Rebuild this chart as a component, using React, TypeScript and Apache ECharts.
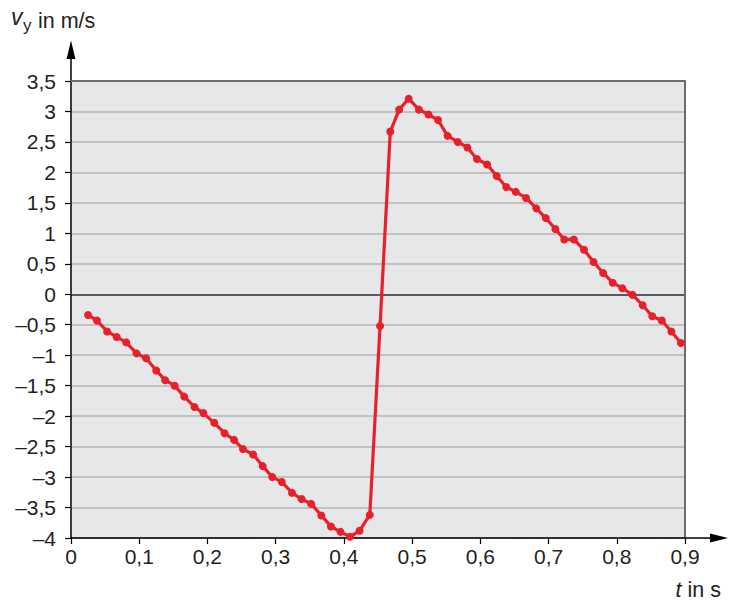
import React, { useEffect, useRef } from "react";
import * as echarts from "echarts";

const tValues: number[] = [
  0.025, 0.038, 0.053, 0.067, 0.081, 0.096, 0.110, 0.125, 0.138, 0.152,
  0.166, 0.181, 0.194, 0.210, 0.225, 0.239, 0.252, 0.267, 0.281, 0.295,
  0.309, 0.324, 0.338, 0.352, 0.367, 0.381, 0.395, 0.409, 0.423, 0.438,
  0.453, 0.468, 0.481, 0.495, 0.510, 0.524, 0.538, 0.552, 0.567, 0.581,
  0.595, 0.610, 0.624, 0.638, 0.652, 0.667, 0.682, 0.696, 0.710, 0.723,
  0.737, 0.752, 0.766, 0.780, 0.794, 0.808, 0.823, 0.838, 0.852, 0.866,
  0.880, 0.894,
];

const vyValues: number[] = [
  -0.34, -0.43, -0.61, -0.70, -0.79, -0.97, -1.05, -1.25, -1.41, -1.50,
  -1.68, -1.85, -1.95, -2.11, -2.28, -2.39, -2.54, -2.63, -2.82, -3.00,
  -3.08, -3.26, -3.36, -3.44, -3.63, -3.81, -3.90, -3.98, -3.88, -3.62,
  -0.52, 2.67, 3.03, 3.21, 3.03, 2.95, 2.86, 2.60, 2.50, 2.41,
  2.22, 2.13, 1.94, 1.76, 1.68, 1.58, 1.41, 1.25, 1.07, 0.90,
  0.90, 0.73, 0.53, 0.35, 0.19, 0.10, -0.01, -0.18, -0.36, -0.43,
  -0.61, -0.80,
];

const X_MIN = 0;
const X_MAX = 0.9;
const X_STEP = 0.1;
const Y_MIN = -4;
const Y_MAX = 3.5;
const Y_STEP = 0.5;

const FONT = "'Liberation Sans', Arial, Helvetica, sans-serif";
const TEXT_COLOR = "#231f20";

function fmt(v: number, digits: number): string {
  const r = Math.round(v * Math.pow(10, digits)) / Math.pow(10, digits);
  if (r === 0) return "0";
  const s = String(Math.abs(r)).replace(".", ",");
  return (r < 0 ? "\u2013" : "") + s;
}

export default function App() {
  const ref = useRef<HTMLDivElement>(null);

  useEffect(() => {
    if (!ref.current) return;
    const chart = echarts.init(ref.current, undefined, { renderer: "svg" });

    const nLines = Math.round((Y_MAX - Y_MIN) / Y_STEP) + 1;
    const splitColors: string[] = [];
    for (let i = 0; i < nLines; i++) {
      const v = Y_MIN + i * Y_STEP;
      if (Math.abs(v) < 1e-9) splitColors.push("#2b2b2b");
      else if (Math.abs(v - Y_MAX) < 1e-9) splitColors.push("#6b6b6b");
      else splitColors.push("#b5b5b5");
    }

    const data = tValues.map((t, i) => [t, vyValues[i]]);

    chart.setOption({
      animation: false,
      grid: {
        left: 71,
        right: 53,
        top: 81,
        bottom: 64,
        show: true,
        backgroundColor: "#e6e7e8",
        borderWidth: 0,
      },
      xAxis: [
        {
          type: "value",
          min: X_MIN,
          max: X_MAX,
          interval: X_STEP,
          axisLine: { show: true, onZero: false, lineStyle: { color: "#000", width: 1.5 } },
          axisTick: { show: true, length: 6, lineStyle: { color: "#000", width: 1.2 } },
          axisLabel: {
            margin: 8,
            fontSize: 21,
            fontFamily: FONT,
            color: TEXT_COLOR,
            formatter: (v: number) => fmt(v, 1),
          },
          splitLine: { show: false },
        },
        {
          type: "value",
          position: "top",
          min: X_MIN,
          max: X_MAX,
          axisLine: { show: true, onZero: false, lineStyle: { color: "#6b6b6b", width: 2 } },
          axisTick: { show: false },
          axisLabel: { show: false },
          splitLine: { show: false },
        },
      ],
      yAxis: [
        {
          type: "value",
          min: Y_MIN,
          max: Y_MAX,
          interval: Y_STEP,
          axisLine: { show: true, onZero: false, lineStyle: { color: "#000", width: 1.5 } },
          axisTick: { show: true, length: 6, lineStyle: { color: "#000", width: 1.2 } },
          axisLabel: {
            margin: 15,
            fontSize: 21,
            fontFamily: FONT,
            color: TEXT_COLOR,
            formatter: (v: number) => fmt(v, 1),
          },
          splitLine: { show: true, lineStyle: { color: splitColors, width: 1.5 } },
        },
        {
          type: "value",
          position: "right",
          min: Y_MIN,
          max: Y_MAX,
          axisLine: { show: true, onZero: false, lineStyle: { color: "#6b6b6b", width: 2 } },
          axisTick: { show: false },
          axisLabel: { show: false },
          splitLine: { show: false },
        },
      ],
      series: [
        {
          type: "line",
          xAxisIndex: 0,
          yAxisIndex: 0,
          data,
          symbol: "circle",
          symbolSize: 8,
          lineStyle: { color: "#e8202a", width: 3.2 },
          itemStyle: { color: "#e8202a" },
          z: 5,
        },
      ],
    });

    const [xl, yb] = chart.convertToPixel({ gridIndex: 0 }, [X_MIN, Y_MIN]) as number[];
    const [xr, yt] = chart.convertToPixel({ gridIndex: 0 }, [X_MAX, Y_MAX]) as number[];

    chart.setOption({
      graphic: [
        {
          type: "line",
          shape: { x1: xl, y1: yt, x2: xl, y2: 56 },
          style: { stroke: "#000", lineWidth: 1.5 },
        },
        {
          type: "polygon",
          shape: { points: [[xl - 4.4, 59], [xl + 4.4, 59], [xl, 40.5]] },
          style: { fill: "#000" },
        },
        {
          type: "line",
          shape: { x1: xr, y1: yb, x2: 712, y2: yb },
          style: { stroke: "#000", lineWidth: 1.5 },
        },
        {
          type: "polygon",
          shape: { points: [[710, yb - 4.5], [710, yb + 4.5], [728, yb]] },
          style: { fill: "#000" },
        },
        {
          type: "text",
          x: 11,
          y: 5,
          style: {
            text: "v",
            fontSize: 23,
            fontStyle: "italic",
            fontFamily: FONT,
            fill: TEXT_COLOR,
          },
        },
        {
          type: "text",
          x: 23,
          y: 17,
          style: {
            text: "y",
            fontSize: 17,
            fontFamily: FONT,
            fill: TEXT_COLOR,
          },
        },
        {
          type: "text",
          x: 38,
          y: 10,
          style: {
            text: "in m/s",
            fontSize: 21.5,
            fontFamily: FONT,
            fill: TEXT_COLOR,
          },
        },
        {
          type: "text",
          x: 721,
          y: 580,
          style: {
            text: "{i|t} in s",
            align: "right",
            fontSize: 21.5,
            lineHeight: 20,
            fontFamily: FONT,
            fill: TEXT_COLOR,
            rich: {
              i: { fontStyle: "italic", fontSize: 21.5, lineHeight: 20, fontFamily: FONT, fill: TEXT_COLOR },
            },
          },
        },
      ],
    });

    return () => chart.dispose();
  }, []);

  return (
    <div
      ref={ref}
      style={{ position: "fixed", left: 0, top: 0, width: 738, height: 602, background: "#fff" }}
    />
  );
}
